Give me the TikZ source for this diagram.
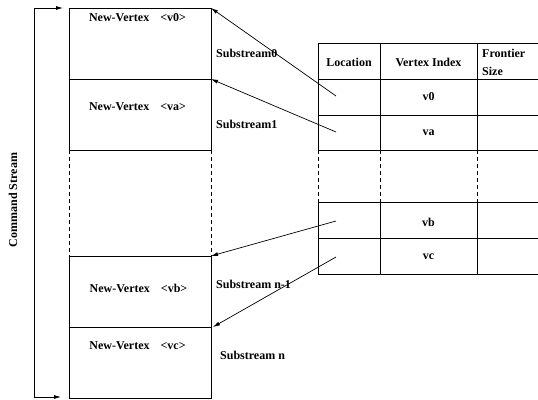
\documentclass[tikz,border=0pt]{standalone}
\usepackage{fontspec}
\setmainfont{Liberation Serif}
\usetikzlibrary{arrows.meta}
\begin{document}
\begin{tikzpicture}[x=1pt,y=-1pt,
  box/.style={draw, line width=0.8pt, minimum width=142pt, minimum height=71pt, inner sep=0pt, outer sep=0pt},
  cell/.style={draw, line width=0.8pt, inner sep=0pt, outer sep=0pt},
  lbl/.style={font=\bfseries\fontsize{12}{18}\selectfont, inner sep=0pt},
  dline/.style={line width=0.8pt, dash pattern=on 4pt off 3pt},
  arr/.style={line width=0.7pt, -{Latex[length=7pt,width=4pt]}}]
\clip (0,0) rectangle (538,399);
% left boxes
\node[box] (b0) at (140,43.5) {};
\node[box] (ba) at (140,114.5) {};
\node[box] (bb) at (140,291.5) {};
\node[box] (bc) at (140,362.5) {};
\draw[dline] (ba.south west) -- (bb.north west);
\draw[dline] (ba.south east) -- (bb.north east);
\node[lbl] (t0) at (137.5,18) {New-Vertex\hspace{11pt}<v0>};
\node[lbl] (ta) at (137.5,107) {New-Vertex\hspace{11pt}<va>};
\node[lbl] (tb) at (138.5,288) {New-Vertex\hspace{11pt}<vb>};
\node[lbl] (tc) at (137.5,346) {New-Vertex\hspace{11pt}<vc>};
% substream labels
\node[lbl, anchor=west] (s0) at (216,53) {Substream0};
\node[lbl, anchor=west] (s1) at (216,124) {Substream1};
\node[lbl, anchor=west] (sn1) at (216,284) {Substream n-1};
\node[lbl, anchor=west] (sn) at (220,355) {Substream n};
% table
\node[cell, minimum width=62pt, minimum height=36pt] (h1) at (349,61) {};
\node[cell, minimum width=97pt, minimum height=36pt] (h2) at (428.5,61) {};
\node[cell, minimum width=64pt, minimum height=36pt] (h3) at (509,61) {};
\node[cell, minimum width=62pt, minimum height=36pt] (r11) at (349,97) {};
\node[cell, minimum width=97pt, minimum height=36pt] (r12) at (428.5,97) {};
\node[cell, minimum width=64pt, minimum height=36pt] (r13) at (509,97) {};
\node[cell, minimum width=62pt, minimum height=35pt] (r21) at (349,132.5) {};
\node[cell, minimum width=97pt, minimum height=35pt] (r22) at (428.5,132.5) {};
\node[cell, minimum width=64pt, minimum height=35pt] (r23) at (509,132.5) {};
\node[cell, minimum width=62pt, minimum height=36pt] (r31) at (349,220) {};
\node[cell, minimum width=97pt, minimum height=36pt] (r32) at (428.5,220) {};
\node[cell, minimum width=64pt, minimum height=36pt] (r33) at (509,220) {};
\node[cell, minimum width=62pt, minimum height=36pt] (r41) at (349,256) {};
\node[cell, minimum width=97pt, minimum height=36pt] (r42) at (428.5,256) {};
\node[cell, minimum width=64pt, minimum height=36pt] (r43) at (509,256) {};
\draw[dline] (r21.south west) -- (r31.north west);
\draw[dline] (r22.south west) -- (r32.north west);
\draw[dline] (r23.south west) -- (r33.north west);
\node[lbl] (lh1) at (349,62) {Location};
\node[lbl] (lh2) at (428.5,62) {Vertex Index};
\node[lbl, anchor=west, align=left] (lh3) at (482,62) {Frontier\\Size};
\node[lbl] (l1) at (428.5,97) {v0};
\node[lbl] (l2) at (428.5,133) {va};
\node[lbl] (l3) at (428.5,222) {vb};
\node[lbl] (l4) at (428.5,257) {vc};
% pointer arrows
\coordinate (p0) at (336,96);
\coordinate (pa) at (336,132);
\coordinate (pb) at (336,221);
\coordinate (pc) at (336,257);
\draw[arr] (p0) -- (b0.north east);
\draw[arr] (pa) -- (ba.north east);
\draw[arr] (pb) -- (bb.north east);
\draw[arr] (pc) -- ([xshift=2pt]bc.north east);
% command stream
\coordinate (ct) at (63,8);
\coordinate (c1) at (34,8);
\coordinate (c2) at (34,397);
\coordinate (cb) at (61,397);
\draw[line width=0.8pt, {Latex[length=7pt,width=4pt]}-{Latex[length=7pt,width=4pt]}] (ct) -- (c1) -- (c2) -- (cb);
\node[lbl, rotate=90] (cs) at (13,200) {Command Stream};
\end{tikzpicture}
\end{document}
